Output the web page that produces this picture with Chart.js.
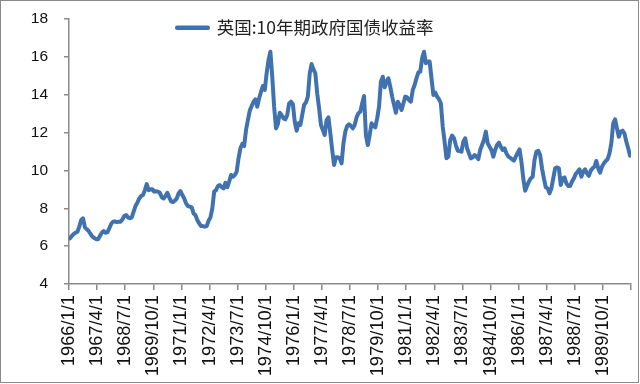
<!DOCTYPE html>
<html><head><meta charset="utf-8">
<style>html,body{margin:0;padding:0;background:#fff}#w{position:relative;width:640px;height:384px;overflow:hidden}
#f{position:absolute;left:0;top:0;width:637px;height:381px;border:1px solid #8a8a8a;pointer-events:none}
canvas{display:block}</style>
<script src="https://cdn.jsdelivr.net/npm/chart.js@4"></script></head>
<body><div id="w"><canvas id="c" width="640" height="384"></canvas><div id="f"></div></div>
<script>
const seriesName='英国:10年期政府国债收益率';
const tickLabels=['1966/1/1','1967/4/1','1968/7/1','1969/10/1','1971/1/1','1972/4/1','1973/7/1','1974/10/1','1976/1/1','1977/4/1','1978/7/1','1979/10/1','1981/1/1','1982/4/1','1983/7/1','1984/10/1','1986/1/1','1987/4/1','1988/7/1','1989/10/1'];
const yieldValues=[6.41,6.54,6.64,6.71,6.76,7.03,7.38,7.47,6.99,6.89,6.80,6.64,6.50,6.43,6.37,6.36,6.54,6.71,6.80,6.71,6.73,6.94,7.17,7.29,7.31,7.27,7.29,7.29,7.41,7.59,7.64,7.52,7.47,7.52,7.82,8.12,8.30,8.52,8.65,8.70,8.96,9.28,8.96,9.00,9.00,8.88,8.90,8.88,8.82,8.58,8.52,8.65,8.82,8.58,8.37,8.33,8.40,8.52,8.79,8.91,8.70,8.52,8.26,8.12,8.09,8.05,7.73,7.64,7.38,7.20,7.06,7.06,7.03,7.06,7.34,7.52,7.99,8.88,8.96,9.18,9.23,9.11,9.05,9.35,9.11,9.41,9.76,9.67,9.76,9.93,10.64,11.17,11.40,11.29,12.14,12.66,13.16,13.40,13.63,13.76,13.37,13.81,14.16,14.46,14.25,15.13,15.83,16.27,14.95,13.37,12.22,12.45,13.05,12.93,12.75,12.70,12.93,13.54,13.63,13.51,12.58,12.10,12.49,12.40,12.93,13.46,13.60,13.90,15.13,15.62,15.34,15.13,14.07,13.28,12.40,12.14,11.87,12.66,12.80,11.96,11.08,10.29,10.69,10.69,10.64,10.37,11.43,12.05,12.35,12.44,12.35,12.22,12.40,12.80,13.02,13.10,13.54,13.93,11.87,11.34,11.87,12.49,12.35,12.28,12.75,13.37,14.69,14.95,14.39,14.69,14.87,14.42,13.90,13.46,13.05,13.63,13.46,13.19,13.54,13.90,13.86,13.72,13.63,14.25,14.51,14.87,15.18,15.22,15.92,16.27,15.66,15.75,15.75,14.87,13.98,14.11,13.90,13.76,13.55,12.31,11.52,10.64,10.73,11.61,11.84,11.70,11.34,11.04,11.03,10.99,11.52,11.70,11.17,10.90,10.64,10.69,10.81,10.73,10.60,11.08,11.34,11.61,12.05,11.43,11.25,11.08,10.73,11.08,11.34,11.47,11.25,11.08,11.17,10.90,10.73,10.67,10.59,10.52,10.73,10.94,11.11,10.46,9.58,8.93,9.18,9.41,9.58,9.67,10.55,10.99,11.04,10.81,10.11,9.58,9.11,9.05,8.79,9.05,9.58,10.11,10.16,10.11,9.23,9.58,9.63,9.32,9.18,9.18,9.41,9.58,9.81,9.93,10.06,9.67,9.93,10.06,9.85,9.71,9.99,10.11,10.20,10.50,10.11,9.88,10.20,10.37,10.50,10.59,10.90,11.43,12.49,12.70,12.22,11.78,12.05,12.10,11.96,11.52,11.17,10.78];
const monthsPerTick=15;
const lineColor='#4172b0', axisColor='#8a8a8a', textColor='#111';
const moveLegend={id:'moveLegend',beforeDraw(ch){const l=ch.legend,w=l.width;l.left=167;l.right=167+w;l.top=9;l.bottom=9+l.height;}};
new Chart(document.getElementById('c'),{
 type:'line',
 data:{datasets:[{label:seriesName,data:yieldValues.map((v,i)=>({x:i+0.5,y:v})),borderColor:lineColor,backgroundColor:lineColor,borderWidth:4,pointRadius:0,tension:0,borderJoinStyle:'round',borderCapStyle:'round'}]},
 options:{responsive:false,animation:false,
  layout:{padding:{left:0,right:9,top:19,bottom:0}},
  plugins:{tooltip:{enabled:false},
   legend:{display:true,position:'chartArea',align:'start',
    labels:{boxWidth:31,boxHeight:0.5,padding:10,font:{family:'"Noto Sans CJK SC"',size:17.5},color:'#222'}}},
  scales:{
   x:{type:'linear',min:0,max:300,
    afterFit(s){s.height=384-284;s.paddingLeft=0;s.paddingRight=0;},
    grid:{display:true,drawOnChartArea:false,drawTicks:true,tickLength:6,color:axisColor,lineWidth:1.5},
    border:{color:axisColor,width:1.5},
    ticks:{stepSize:monthsPerTick,autoSkip:false,maxRotation:90,minRotation:90,padding:5,color:textColor,font:{family:'"Liberation Sans"',size:18.3},
     callback:v=>tickLabels[v/monthsPerTick]??''}},
   y:{min:4,max:18,
    afterFit(s){s.width=69;s.paddingTop=0;s.paddingBottom=0;},
    grid:{display:true,drawOnChartArea:false,drawTicks:true,tickLength:5,color:axisColor,lineWidth:1.5},
    border:{color:axisColor,width:1.5},
    ticks:{stepSize:2,padding:16,color:textColor,font:{family:'"Liberation Sans"',size:15.5}}}
  }},
 plugins:[moveLegend]});
</script></body></html>
